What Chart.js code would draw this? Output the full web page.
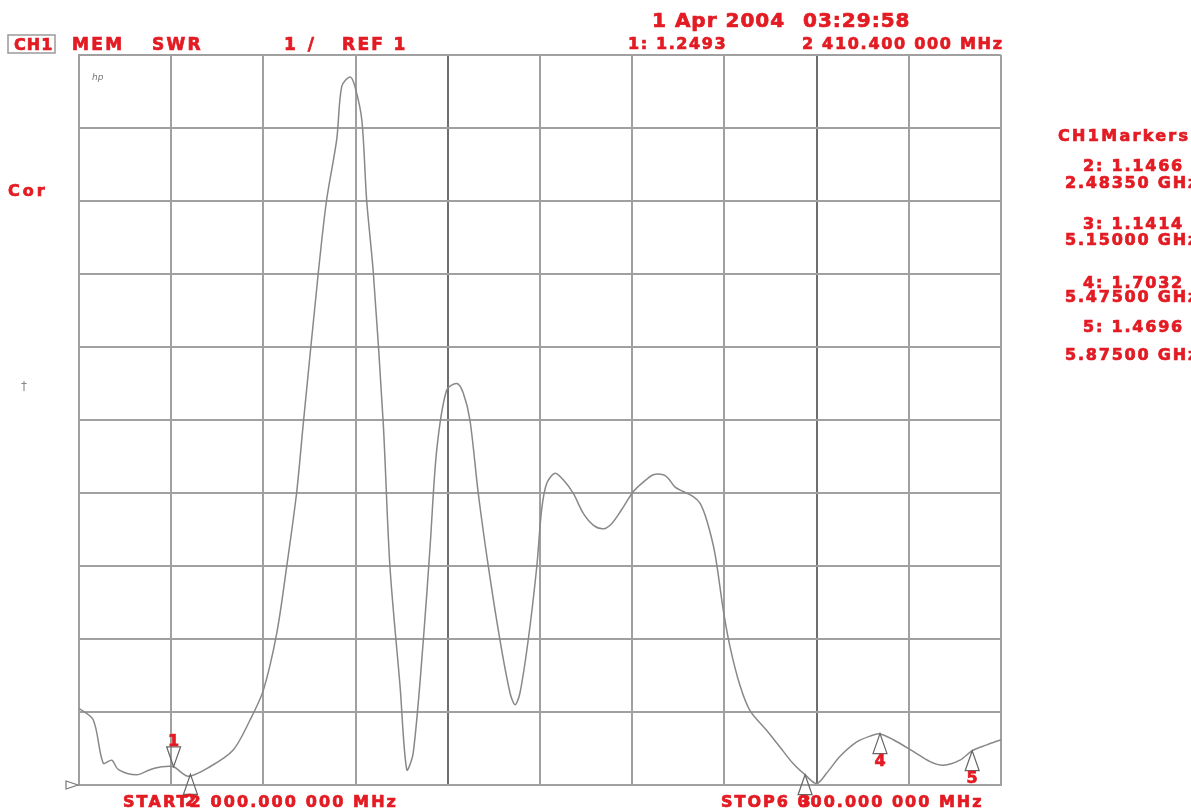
<!DOCTYPE html>
<html>
<head>
<meta charset="utf-8">
<title>SWR</title>
<script src="https://cdn.jsdelivr.net/npm/chart.js@4.4.1/dist/chart.umd.min.js"></script>
<style>
  html, body { margin: 0; padding: 0; background: #fff; }
  canvas { display: block; }
</style>
</head>
<body>
<canvas id="chart-1" width="1191" height="812"></canvas>
<script>
// sweep, MHz
const freqMHz = [2000, 2062, 2105, 2142, 2171, 2250, 2308, 2359, 2410, 2474, 2568, 2669, 2742, 2800, 2858, 2901, 2944, 2973,
  3038, 3074, 3118, 3140, 3176, 3197, 3227, 3248, 3277, 3320, 3349, 3393, 3422, 3450, 3494, 3523, 3552, 3595, 3639, 3667,
  3696, 3732, 3776, 3826, 3870, 3892, 3913, 3949, 3986, 4007, 4029, 4065, 4101, 4145, 4188, 4231, 4275, 4311, 4354, 4405,
  4448, 4492, 4535, 4557, 4586, 4622, 4665, 4694, 4723, 4759, 4795, 4824, 4867, 4911, 4983, 5041, 5099, 5150, 5200, 5243,
  5301, 5374, 5432, 5475, 5533, 5619, 5692, 5750, 5822, 5875, 5938, 6000]
const swr = [2.05, 1.89, 1.30, 1.34, 1.21, 1.14, 1.21, 1.25, 1.25, 1.12, 1.25, 1.48, 1.89, 2.30, 3.08, 3.99, 5.00, 5.95,
  8.01, 9.01, 9.84, 10.57, 10.70, 10.57, 10.11, 9.01, 8.01, 5.95, 3.99, 2.35, 1.21, 1.44, 2.99, 4.26, 5.59, 6.41, 6.50, 6.37,
  6.00, 5.00, 3.99, 2.99, 2.26, 2.10, 2.26, 2.99, 3.99, 4.77, 5.13, 5.27, 5.18, 4.99, 4.72, 4.56, 4.51, 4.58, 4.77, 5.02,
  5.15, 5.25, 5.25, 5.20, 5.08, 5.02, 4.95, 4.86, 4.63, 4.17, 3.40, 2.90, 2.37, 2.02, 1.75, 1.52, 1.29, 1.14, 1.02, 1.16,
  1.39, 1.59, 1.67, 1.70, 1.62, 1.46, 1.32, 1.27, 1.34, 1.47, 1.55, 1.62]

// markers
const markerNames = ['1', '2', '3', '4', '5']
const markerFreq = [2410.4, 2483.5, 5150, 5475, 5875]
const markerSwr = [1.2493, 1.1466, 1.1414, 1.7032, 1.4696]

// axis
const startMHz = 2000
const stopMHz = 6000
const refSwr = 1
const swrPerDiv = 1

const RED = '#e31b23'
const FONT = '"DejaVu Sans", sans-serif'

function txt(ctx, s, x, y, size, spacing, color, align) {
  ctx.font = 'bold ' + size + 'px ' + FONT
  ctx.letterSpacing = (spacing || 0) + 'px'
  ctx.fillStyle = color || RED
  ctx.strokeStyle = color || RED
  ctx.lineWidth = 0.7
  ctx.textAlign = align || 'left'
  ctx.textBaseline = 'alphabetic'
  ctx.fillText(s, x, y)
  ctx.strokeText(s, x, y)
}

const annotations = {
  id: 'annotations',
  afterDraw(chart) {
    const ctx = chart.ctx
    const xs = chart.scales.x
    const ys = chart.scales.y
    ctx.save()

    // header line
    ctx.strokeStyle = '#9a9a9a'
    ctx.lineWidth = 1.5
    ctx.strokeRect(8, 35, 47, 18)
    txt(ctx, 'CH1', 14, 50, 16, 1)
    txt(ctx, 'MEM', 72, 50, 17, 2.3)
    txt(ctx, 'SWR', 152, 50, 17, 2.3)
    txt(ctx, swrPerDiv + ' /', 284, 50, 17, 3)
    txt(ctx, 'REF ' + refSwr, 342, 50, 17, 2.3)
    txt(ctx, '1 Apr 2004', 652, 27, 20, 1)
    txt(ctx, '03:29:58', 803, 27, 20, 1)
    txt(ctx, '1: 1.2493', 628, 49, 16, 1.6)
    txt(ctx, '2 410.400 000 MHz', 802, 49, 16, 1.7)

    // side texts
    txt(ctx, 'Cor', 8, 196, 16, 3)
    ctx.font = '12px ' + FONT
    ctx.letterSpacing = '0px'
    ctx.fillStyle = '#888'
    ctx.fillText('\u2020', 21, 390)
    ctx.font = 'italic 9px ' + FONT
    ctx.fillStyle = '#777'
    ctx.fillText('hp', 92, 80)

    // marker table on the right
    txt(ctx, 'CH1Markers', 1058, 141, 16, 2.3)
    const rows = [[171, 188], [229, 245], [288, 302], [332, 360]]
    for (let i = 1; i < markerNames.length; i++) {
      const r = rows[i - 1]
      txt(ctx, markerNames[i] + ': ' + markerSwr[i].toFixed(4), 1083, r[0], 16, 1.8)
      txt(ctx, (markerFreq[i] / 1000).toFixed(5) + ' GHz', 1065, r[1], 16, 1.8)
    }

    // start / stop
    txt(ctx, 'START2 000.000 000 MHz', 123, 807, 16, 2.1)
    txt(ctx, 'STOP6 000.000 000 MHz', 721, 807, 16, 2)

    // reference pointer
    const ry = ys.getPixelForValue(refSwr)
    ctx.strokeStyle = '#777'
    ctx.lineWidth = 1.2
    ctx.beginPath()
    ctx.moveTo(66, ry - 4)
    ctx.lineTo(78, ry)
    ctx.lineTo(66, ry + 4)
    ctx.closePath()
    ctx.stroke()

    // marker triangles
    markerNames.forEach((m, i) => {
      const px = xs.getPixelForValue(markerFreq[i])
      const py = ys.getPixelForValue(markerSwr[i])
      const dir = i === 0 ? -1 : 1
      ctx.strokeStyle = '#666'
      ctx.lineWidth = 1.2
      ctx.beginPath()
      ctx.moveTo(px, py)
      ctx.lineTo(px - 7, py + dir * 20)
      ctx.lineTo(px + 7, py + dir * 20)
      ctx.closePath()
      ctx.stroke()
      const ly = dir < 0 ? py - 21 : py + 32
      txt(ctx, m, px, ly, 16, 0, RED, 'center')
    })

    ctx.restore()
  }
}

const ctx = document.getElementById('chart-1').getContext('2d')
new Chart(ctx, {
  type: 'line',
  data: {
    datasets: [{
      label: 'SWR',
      data: freqMHz.map((f, i) => ({ x: f, y: swr[i] })),
      borderColor: '#888888',
      borderWidth: 1.5,
      pointRadius: 0,
      tension: 0.3,
      fill: false
    }]
  },
  options: {
    responsive: false,
    animation: false,
    layout: { padding: { left: 79, top: 55, right: 190, bottom: 27 } },
    plugins: { legend: { display: false }, tooltip: { enabled: false } },
    scales: {
      x: {
        type: 'linear',
        min: startMHz,
        max: stopMHz,
        ticks: { display: false, stepSize: 400 },
        grid: {
          drawTicks: false,
          lineWidth: 2,
          color: c => (c.index === 4 || c.index === 8) ? '#6e6e6e' : '#a0a0a0'
        },
        border: { display: true, color: '#a0a0a0', width: 2 },
        afterFit: s => { s.height = 0 }
      },
      y: {
        min: refSwr,
        max: refSwr + 10 * swrPerDiv,
        ticks: { display: false, stepSize: swrPerDiv },
        grid: { drawTicks: false, lineWidth: 2, color: '#a0a0a0' },
        border: { display: true, color: '#a0a0a0', width: 2 },
        afterFit: s => { s.width = 0 }
      }
    }
  },
  plugins: [annotations]
})
</script>
</body>
</html>
